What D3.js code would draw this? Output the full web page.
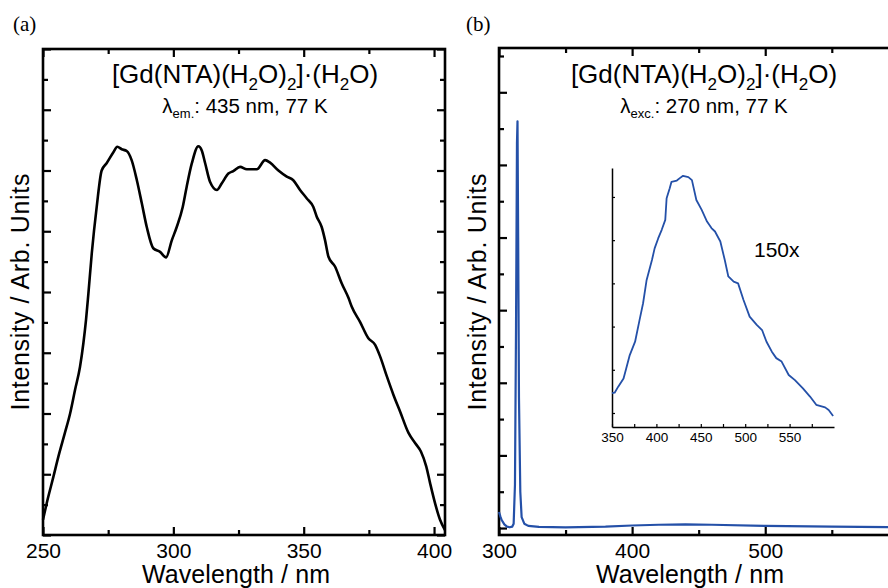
<!DOCTYPE html>
<html>
<head>
<meta charset="UTF-8">
<title>[Gd(NTA)(H2O)2]·(H2O) spectra</title>
<style>
  body { margin: 0; background: #fff; }
  svg { display: block; font-family: "Liberation Sans", Arial, sans-serif; }
</style>
</head>
<body>
<svg id="chart" width="888" height="588"></svg>
<script src="https://cdnjs.cloudflare.com/ajax/libs/d3/7.8.5/d3.min.js"></script>
<script>
// (a) excitation spectrum, emission monitored at 435 nm
const excWl = [250, 251.4, 254, 255.9, 258.4, 260.4, 262.3, 264.2, 265.5, 266.5, 267.4, 268.7, 270.6, 272.5,
  274.4, 277, 278.5, 280.2, 282.1, 284, 286, 287.9, 289.8, 292.3, 294.9, 297.2, 299.4, 301.3, 303.6, 305.1,
  307.1, 309.6, 310.9, 312.2, 314.1, 316.7, 318.6, 321.1, 323, 325.6, 328.2, 332, 335.2, 337.1, 340.3, 343.5,
  346, 348.6, 351.2, 353.7, 355, 356.9, 358.2, 359.5, 362, 364.6, 367.2, 368.4, 371.6, 374.8, 377.4, 379.3,
  381.9, 384.4, 387, 390.2, 392.8, 395, 397, 398.5, 400.4, 402.3, 404.2];
const excI = [0.25, 0.52, 0.96, 1.29, 1.68, 2.0, 2.39, 2.77, 3.16, 3.54, 3.97, 4.63, 5.4, 6.0,
  6.12, 6.3, 6.39, 6.35, 6.32, 6.17, 5.84, 5.46, 5.07, 4.72, 4.66, 4.57, 4.85, 5.07, 5.4, 5.73,
  6.12, 6.4, 6.33, 6.12, 5.81, 5.68, 5.79, 5.95, 5.99, 6.06, 6.02, 6.02, 6.17, 6.13, 6.0, 5.9,
  5.84, 5.68, 5.54, 5.4, 5.24, 5.07, 4.85, 4.58, 4.42, 4.14, 3.9, 3.76, 3.51, 3.24, 3.13, 2.94,
  2.61, 2.31, 2.03, 1.68, 1.51, 1.37, 1.13, 0.85, 0.52, 0.25, 0.08];

// (b) emission spectrum, excited at 270 nm
const emWl = [300, 301, 302, 304, 306, 308, 310, 311, 312, 312.8, 313.5, 313.9, 314.4, 315, 316, 317,
  319, 322, 330, 350, 380, 400, 420, 440, 460, 500, 550, 600, 608];
const emI = [0.22, 0.16, 0.11, 0.05, 0.02, 0.01, 0.02, 0.06, 0.6, 2.8, 5.3, 5.6, 4.0, 1.8, 0.5, 0.15,
  0.06, 0.03, 0.015, 0.01, 0.02, 0.035, 0.045, 0.05, 0.045, 0.03, 0.02, 0.01, 0.01];

// inset of (b), 150x
const insetWl = [350, 353, 357, 363, 366, 370, 376, 381, 385, 389, 395, 398, 402, 406, 410, 411.5, 415, 417,
  423, 426, 430, 436, 440, 445, 451, 457, 462, 466, 472, 477, 481, 487, 492, 498, 505, 513, 519, 524, 530,
  535, 541, 549, 556, 565, 573, 580, 590, 594, 599];
const insetI = [1.46, 1.47, 1.61, 1.80, 2.03, 2.34, 2.65, 3.15, 3.54, 4.08, 4.54, 4.81, 5.04, 5.24, 5.47, 5.97,
  6.20, 6.35, 6.38, 6.43, 6.49, 6.46, 6.39, 5.93, 5.70, 5.43, 5.28, 5.20, 4.97, 4.54, 4.16, 4.04, 4.00, 3.62,
  3.23, 3.04, 2.92, 2.65, 2.42, 2.27, 2.19, 1.88, 1.76, 1.57, 1.38, 1.19, 1.13, 1.07, 0.93];

// tick values
const aTicks = [250, 300, 350, 400];
const aMinor = [275, 325, 375];
const bTicks = [300, 400, 500];
const bMinor = [350, 450, 550];
const insetTicks = [350, 400, 450, 500, 550];
const insetMinor = [375, 425, 475, 525, 575];
const aYTicks = [0, 1, 2, 3, 4, 5, 6, 7, 8];
const aYMinor = [0.5, 1.5, 2.5, 3.5, 4.5, 5.5, 6.5, 7.5];
const bYTicks = [0, 1, 2, 3, 4, 5, 6];
const bYMinor = [0.5, 1.5, 2.5, 3.5, 4.5, 5.5, 6.5];
const insetYTicks = [1, 2, 3, 4, 5, 6];

const blue = "#2450a8";
const svg = d3.select("#chart");

function styleAxis(g, size) {
  g.attr("font-family", null).attr("font-size", size);
  g.select(".domain").remove();
  g.selectAll(".tick line").attr("stroke", "#000").attr("stroke-width", 2.2);
  g.selectAll(".tick text").attr("fill", "#000");
}

// frame with inward ticks on all four sides
function framedPanel(x, y, xMajor, xMinor, yMajor, yMinor) {
  const [x0, x1] = x.range();
  const [y0, y1] = y.range();
  const g = svg.append("g");

  g.append("g").attr("transform", `translate(0,${y0})`)
    .call(d3.axisBottom(x).tickValues(xMajor).tickSize(-8).tickPadding(8).tickFormat(d3.format("d")))
    .call(a => styleAxis(a, 21));
  g.append("g").attr("transform", `translate(0,${y0})`)
    .call(d3.axisBottom(x).tickValues(xMinor).tickSize(-5).tickFormat(""))
    .call(a => styleAxis(a, 21));
  g.append("g").attr("transform", `translate(0,${y1})`)
    .call(d3.axisTop(x).tickValues(xMajor).tickSize(-8).tickFormat(""))
    .call(a => styleAxis(a, 21));
  g.append("g").attr("transform", `translate(0,${y1})`)
    .call(d3.axisTop(x).tickValues(xMinor).tickSize(-5).tickFormat(""))
    .call(a => styleAxis(a, 21));

  g.append("g").attr("transform", `translate(${x0},0)`)
    .call(d3.axisLeft(y).tickValues(yMajor).tickSize(-8).tickFormat(""))
    .call(a => styleAxis(a, 21));
  g.append("g").attr("transform", `translate(${x0},0)`)
    .call(d3.axisLeft(y).tickValues(yMinor).tickSize(-5).tickFormat(""))
    .call(a => styleAxis(a, 21));
  g.append("g").attr("transform", `translate(${x1},0)`)
    .call(d3.axisRight(y).tickValues(yMajor).tickSize(-8).tickFormat(""))
    .call(a => styleAxis(a, 21));
  g.append("g").attr("transform", `translate(${x1},0)`)
    .call(d3.axisRight(y).tickValues(yMinor).tickSize(-5).tickFormat(""))
    .call(a => styleAxis(a, 21));

  g.append("rect")
    .attr("x", x0).attr("y", y1)
    .attr("width", x1 - x0).attr("height", y0 - y1)
    .attr("fill", "none").attr("stroke", "#000").attr("stroke-width", 2.6);
  return g;
}

function titles(cx, sym, sub, rest) {
  const t = svg.append("text").attr("x", cx).attr("y", 83)
    .attr("text-anchor", "middle").attr("font-size", 26);
  const parts = [["[Gd(NTA)(H", 0], ["2", 1], ["O)", 0], ["2", 1], ["]\u00b7(H", 0], ["2", 1], ["O)", 0]];
  parts.forEach(([s, isSub], i) => {
    t.append("tspan").text(s)
      .attr("font-size", isSub ? 17 : 26)
      .attr("dy", isSub ? 7 : (i === 0 ? 0 : -7));
  });
  const s = svg.append("text").attr("x", cx).attr("y", 113)
    .attr("text-anchor", "middle").attr("font-size", 20.5);
  s.append("tspan").text(sym);
  s.append("tspan").text(sub).attr("font-size", 13).attr("dy", 5);
  s.append("tspan").text(rest).attr("dy", -5);
}

function axisLabels(xCx, yX) {
  svg.append("text").attr("x", xCx).attr("y", 583)
    .attr("text-anchor", "middle").attr("font-size", 25).attr("textLength", 188)
    .text("Wavelength / nm");
  svg.append("text").attr("transform", `translate(${yX},292) rotate(-90)`)
    .attr("text-anchor", "middle").attr("font-size", 25).attr("textLength", 237)
    .text("Intensity / Arb. Units");
}

// ---- panel (a)
const xa = d3.scaleLinear().domain([250, 404.2]).range([43, 445]);
const ya = d3.scaleLinear().domain([0, 8]).range([535, 49]);
framedPanel(xa, ya, aTicks, aMinor, aYTicks, aYMinor);

svg.append("path")
  .datum(d3.zip(excWl, excI))
  .attr("fill", "none").attr("stroke", "#000").attr("stroke-width", 2.6)
  .attr("stroke-linejoin", "round")
  .attr("d", d3.line().x(d => xa(d[0])).y(d => ya(d[1])).curve(d3.curveMonotoneX));

titles(245, "\u03bb", "em.", ": 435 nm, 77 K");
axisLabels(236, 29);
svg.append("text").attr("x", 13).attr("y", 31)
  .attr("font-family", "Liberation Serif, serif").attr("font-size", 21).text("(a)");

// ---- panel (b)
const xb = d3.scaleLinear().domain([300, 608]).range([499, 909]);
const yb = d3.scaleLinear().domain([-0.096, 6.61]).range([535, 48]);
framedPanel(xb, yb, bTicks, bMinor, bYTicks, bYMinor);

svg.append("path")
  .datum(d3.zip(emWl, emI))
  .attr("fill", "none").attr("stroke", blue).attr("stroke-width", 2.2)
  .attr("stroke-linejoin", "round")
  .attr("d", d3.line().x(d => xb(d[0])).y(d => yb(d[1])));

titles(704, "\u03bb", "exc.", ": 270 nm, 77 K");
axisLabels(690, 486);
svg.append("text").attr("x", 466).attr("y", 31)
  .attr("font-family", "Liberation Serif, serif").attr("font-size", 21).text("(b)");

// ---- inset
const xi = d3.scaleLinear().domain([350, 600]).range([612, 834]);
const yi = d3.scaleLinear().domain([0.676, 6.67]).range([427, 168]);

const ix = svg.append("g").attr("transform", "translate(0,427)")
  .call(d3.axisBottom(xi).tickValues(insetTicks).tickSize(-3).tickSizeOuter(0).tickPadding(5).tickFormat(d3.format("d")));
ix.attr("font-family", null).attr("font-size", 13.5);
ix.select(".domain").attr("stroke", "#000").attr("stroke-width", 1.5);
ix.selectAll(".tick line").attr("stroke-width", 1.2);
svg.append("g").attr("transform", "translate(0,427)")
  .call(d3.axisBottom(xi).tickValues(insetMinor).tickSize(-3).tickFormat(""))
  .call(a => a.select(".domain").remove())
  .selectAll(".tick line").attr("stroke-width", 1.2);

const iy = svg.append("g").attr("transform", "translate(612,0)")
  .call(d3.axisLeft(yi).tickValues(insetYTicks).tickSize(-3).tickSizeOuter(0).tickFormat(""));
iy.select(".domain").attr("stroke", "#000").attr("stroke-width", 1.5);
iy.selectAll(".tick line").attr("stroke-width", 1.2);

svg.append("path")
  .datum(d3.zip(insetWl, insetI))
  .attr("fill", "none").attr("stroke", blue).attr("stroke-width", 1.8)
  .attr("stroke-linejoin", "round")
  .attr("d", d3.line().x(d => xi(d[0])).y(d => yi(d[1])));

svg.append("text").attr("x", 754).attr("y", 257).attr("font-size", 21).text("150x");
</script>
</body>
</html>
